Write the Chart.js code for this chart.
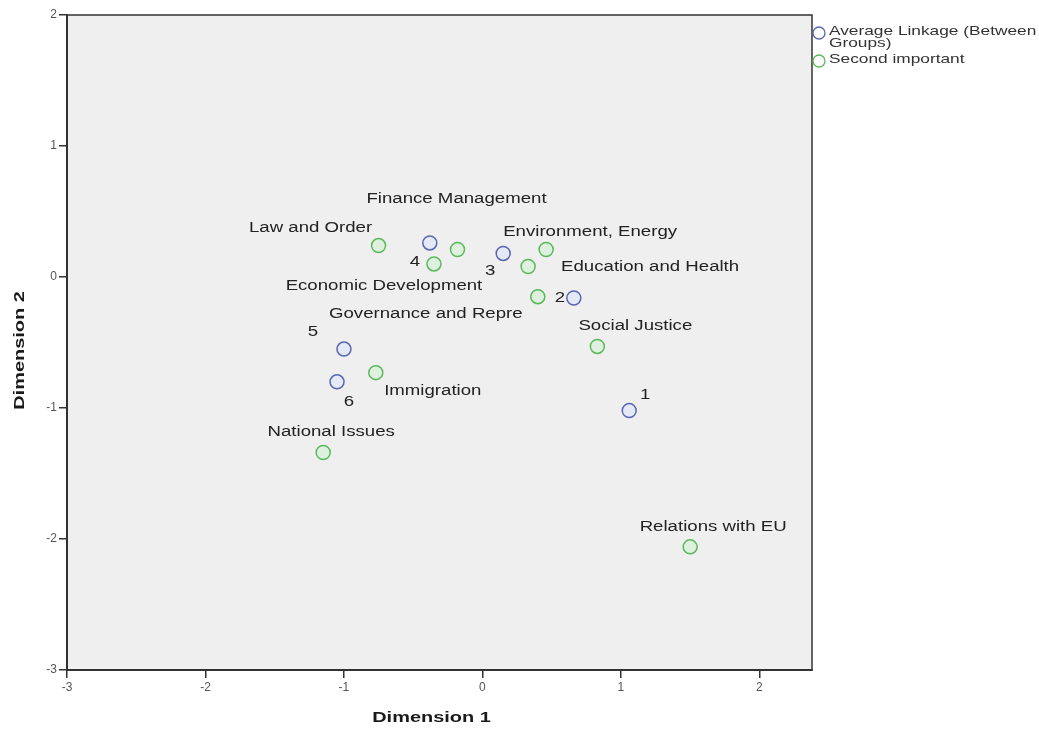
<!DOCTYPE html>
<html>
<head>
<meta charset="utf-8">
<script src="https://cdn.jsdelivr.net/npm/chart.js@4/dist/chart.umd.min.js"></script>
<style>
  html, body { margin: 0; padding: 0; background: #fff; }
  #wrap { width: 1039px; height: 740px; }
</style>
</head>
<body>
<div id="wrap"><canvas id="chart"></canvas></div>
<script>
// axis ticks
const xTicks = [-3, -2, -1, 0, 1, 2];
const yTicks = [-3, -2, -1, 0, 1, 2];

// cluster centres (average linkage)
const clusterIds = ['4', '3', '2', '5', '6', '1'];
const clusterX = [-0.38, 0.15, 0.66, -1.00, -1.05, 1.06];
const clusterY = [0.26, 0.18, -0.16, -0.55, -0.80, -1.02];

// second most important issue
const topicNames = ['Law and Order', 'Finance Management', 'Economic Development', 'Environment, Energy',
  'Education and Health', 'Governance and Repre', 'Social Justice', 'Immigration', 'National Issues', 'Relations with EU'];
const topicX = [-0.75, -0.18, -0.35, 0.46, 0.33, 0.40, 0.83, -0.77, -1.15, 1.50];
const topicY = [0.24, 0.21, 0.10, 0.21, 0.08, -0.15, -0.53, -0.73, -1.34, -2.06];

const seriesNames = ['Average Linkage (Between Groups)', 'Second important'];

// label offsets from their point, in px
const clusterOffsets = [[-15, 19], [-13, 18], [-14, 0], [-31, -17], [12, 20], [16, -15]];
const topicOffsets = [[-68, -17], [-1, -50], [-50, 22], [44, -17], [122, 1],
  [-112, 17], [38, -20], [57, 19], [8, -20], [23, -20]];

const BLUE = '#5a66b2';
const GREEN = '#5cb85c';
const STRETCH = 1.33;

function stretchedText(ctx, text, x, y, font, align, angle) {
  ctx.save();
  ctx.translate(x, y);
  if (angle) ctx.rotate(angle);
  ctx.scale(STRETCH, 1);
  ctx.font = font;
  ctx.textAlign = align || 'center';
  ctx.textBaseline = 'middle';
  ctx.fillText(text, 0, 0);
  ctx.restore();
}

const plotFrame = {
  id: 'plotFrame',
  beforeDraw(chart) {
    const { ctx, chartArea: a } = chart;
    ctx.save();
    ctx.fillStyle = '#efefef';
    ctx.fillRect(a.left, a.top, a.right - a.left, a.bottom - a.top);
    ctx.restore();
  },
  afterDraw(chart) {
    const { ctx, chartArea: a } = chart;
    ctx.save();
    ctx.strokeStyle = '#333';
    ctx.lineWidth = 1.5;
    ctx.strokeRect(a.left, a.top, a.right - a.left, a.bottom - a.top);
    ctx.fillStyle = '#1a1a1a';
    stretchedText(ctx, 'Dimension 1', (a.left + a.right) / 2 - 8, 718, 'bold 15px "Liberation Sans", Arial, sans-serif');
    stretchedText(ctx, 'Dimension 2', 20, (a.top + a.bottom) / 2 + 8, 'bold 15px "Liberation Sans", Arial, sans-serif', 'center', -Math.PI / 2);

    // legend
    const lx = a.right + 7;
    const rows = [
      { color: BLUE, y: a.top + 18, lines: ['Average Linkage (Between', 'Groups)'] },
      { color: GREEN, y: a.top + 46, lines: [seriesNames[1]] }
    ];
    rows.forEach(r => {
      ctx.beginPath();
      ctx.arc(lx, r.y, 6, 0, Math.PI * 2);
      ctx.fillStyle = '#fff';
      ctx.fill();
      ctx.lineWidth = 1.3;
      ctx.strokeStyle = r.color;
      ctx.stroke();
      ctx.fillStyle = '#333';
      r.lines.forEach((t, i) => {
        stretchedText(ctx, t, lx + 10, r.y - 2 + i * 12, '13px "Liberation Sans", Arial, sans-serif', 'left');
      });
    });
    ctx.restore();
  },
  afterDatasetsDraw(chart) {
    const { ctx } = chart;
    ctx.save();
    ctx.fillStyle = '#222';
    const cl = chart.getDatasetMeta(0).data;
    cl.forEach((p, i) => {
      const [dx, dy] = clusterOffsets[i];
      stretchedText(ctx, clusterIds[i], p.x + dx, p.y + dy, '14px "Liberation Sans", Arial, sans-serif');
    });
    const tp = chart.getDatasetMeta(1).data;
    tp.forEach((p, i) => {
      const [dx, dy] = topicOffsets[i];
      stretchedText(ctx, topicNames[i], p.x + dx, p.y + dy, '14px "Liberation Sans", Arial, sans-serif');
    });
    ctx.restore();
  }
};

function toPoints(xs, ys) {
  return xs.map((x, i) => ({ x, y: ys[i] }));
}

const axisCommon = {
  type: 'linear',
  grid: { display: true, drawOnChartArea: false, drawTicks: true, tickLength: 8, color: '#333', lineWidth: 1.5 },
  border: { display: true, color: '#333', width: 2 },
  ticks: { color: '#555', font: { size: 12, family: '"Liberation Sans", Arial, sans-serif' }, padding: 2 }
};

new Chart(document.getElementById('chart'), {
  type: 'scatter',
  data: {
    datasets: [
      {
        label: seriesNames[0],
        data: toPoints(clusterX, clusterY),
        borderColor: BLUE,
        backgroundColor: 'rgba(225,230,248,0.7)',
        pointRadius: 7,
        borderWidth: 1.5
      },
      {
        label: seriesNames[1],
        data: toPoints(topicX, topicY),
        borderColor: GREEN,
        backgroundColor: 'rgba(215,242,215,0.7)',
        pointRadius: 7,
        borderWidth: 1.5
      }
    ]
  },
  options: {
    responsive: true,
    maintainAspectRatio: false,
    animation: false,
    layout: { padding: { top: 15, right: 227, left: 0, bottom: 0 } },
    plugins: { legend: { display: false }, tooltip: { enabled: false } },
    scales: {
      x: {
        ...axisCommon,
        min: -3,
        max: 2.38,
        afterBuildTicks: s => { s.ticks = xTicks.map(v => ({ value: v })); },
        afterFit: s => { s.height = 70; }
      },
      y: {
        ...axisCommon,
        min: -3,
        max: 2,
        afterBuildTicks: s => { s.ticks = yTicks.map(v => ({ value: v })); },
        afterFit: s => { s.width = 67; }
      }
    }
  },
  plugins: [plotFrame]
});
</script>
</body>
</html>
